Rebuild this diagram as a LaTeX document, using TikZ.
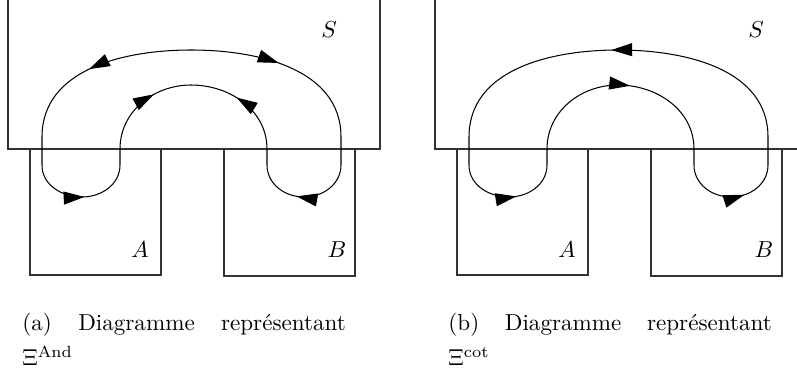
\documentclass[tikz,border=0pt]{standalone}
\usepackage{amsmath,amssymb}
\usetikzlibrary{arrows.meta,decorations.markings}

\begin{document}
\begin{tikzpicture}[
  x=0.433pt, y=0.433pt,
  wall/.style={draw, line width=0.6pt, black!80},
  flow/.style={line width=0.45pt},
  lbl/.style={inner sep=0pt},
  captext/.style={anchor=north west, inner sep=0pt, text width=140pt,
              align=justify, font={\baselineskip=15pt}},
  flowtip/.style={postaction={decorate, decoration={markings,
      mark=at position #1 with {\arrow{Triangle[length=9pt,width=5.6pt]}}}}}
]
\useasboundingbox (0,0) rectangle (797,367);
\clip (0,0) rectangle (797,367);

% the two pictures side by side
\foreach \dx/\k in {0/a, 427/b} {
  \begin{scope}[shift={(\dx,0)}]
    \draw[wall] (8,218) rectangle (380,420);
    \draw[wall] (30,92) rectangle (161,218);
    \draw[wall] (224,91) rectangle (355,218);
    \node[lbl] (s\k) at (329,337) {$S$};
    \node[lbl] (a\k) at (140,117) {$A$};
    \node[lbl] (b\k) at (337,117) {$B$};
    \coordinate (ot\k) at (191,317);
    \coordinate (it\k) at (191,282);
  \end{scope}
}

% (a) two flows meeting on top
\draw[flow, flowtip=0.23, flowtip=0.615, flowtip=0.915]
  (ota) to[out=180,in=90] (42,230) -- (42,202)
  to[out=-90,in=180] (82,170) to[out=0,in=-90] (120,202)
  -- (120,218) to[out=90,in=180] (ita);
\draw[flow, flowtip=0.195, flowtip=0.62, flowtip=0.895]
  (ota) to[out=0,in=90] (341,230) -- (341,202)
  to[out=-90,in=0] (304,170) to[out=180,in=-90] (267,202)
  -- (267,218) to[out=90,in=0] (ita);

% (b) one loop
\begin{scope}[shift={(427,0)}]
\draw[flow, flowtip=0.25, flowtip=0.555, flowtip=0.755, flowtip=0.955]
  (341,202) -- (341,230) to[out=90,in=0] (otb)
  to[out=180,in=90] (42,230) -- (42,202)
  to[out=-90,in=180] (82,170) to[out=0,in=-90] (120,202)
  -- (120,218) to[out=90,in=180] (itb)
  to[out=0,in=90] (267,218) -- (267,202)
  to[out=-90,in=180] (304,170) to[out=0,in=-90] (341,202);
\end{scope}

\node[captext] (capa) at (22,54) {(a) Diagramme représentant\linebreak $\Xi^{\mathrm{And}}$};
\node[captext] (capb) at (448,54) {(b) Diagramme représentant\linebreak $\Xi^{\mathrm{cot}}$};
\end{tikzpicture}
\end{document}
